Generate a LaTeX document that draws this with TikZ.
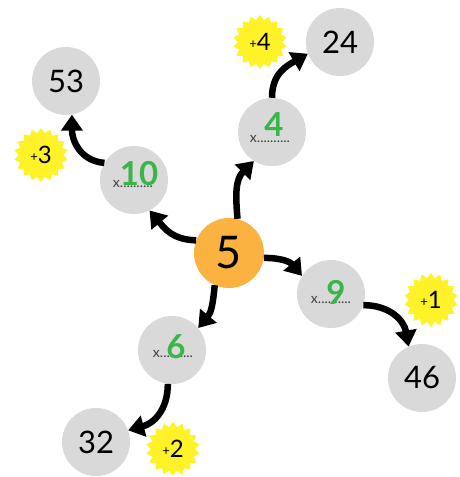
\documentclass[tikz,border=0pt]{standalone}
\usepackage{fontspec}
\setmainfont{Lato}
\usetikzlibrary{calc,arrows.meta,shapes.geometric}

\definecolor{bubblegray}{RGB}{217,217,217}
\definecolor{huborange}{RGB}{251,178,64}
\definecolor{answergreen}{RGB}{57,181,74}
\definecolor{burstyellow}{RGB}{255,242,40}

\begin{document}
\begin{tikzpicture}[x=1pt,y=1pt,yscale=-1,xscale=1,
  bubble/.style = {circle, fill=bubblegray, minimum size=68pt, inner sep=0pt,
  font=\fontsize{31}{31}\selectfont},
  hub/.style = {circle, fill=huborange, minimum size=70pt, inner sep=0pt,
  font=\fontsize{45}{45}\selectfont},
  blank/.style = {inner sep=0pt, text=black!75, font=\fontsize{14}{14}\selectfont},
  answer/.style = {inner sep=0pt, text=answergreen, font=\fontsize{33}{33}\selectfont\bfseries},
  burst/.style = {star, star points=18, star point ratio=1.22, fill=burstyellow,
  minimum size=54pt, inner sep=0pt, font=\fontsize{24}{24}\selectfont},
  hop/.style = {line width=6.5pt, looseness=1.1,
  -{Triangle[length=16pt,width=21pt]}}
  ]
  \useasboundingbox (0,0) rectangle (459,477);

  % centre and first ring
  \node[hub] (c5) at (229,253) {5};
  \node[bubble] (c10) at (134,180) {};
  \node[bubble] (c4) at (272,132) {};
  \node[bubble] (c9) at (331,294) {};
  \node[bubble] (c6) at (172,350) {};

  \node[blank] (d10) at ($(c10)+(-1,4)$) {x..........};
  \node[answer] (a10) at ($(c10)+(5,-6)$) {10};
  \node[blank] (d4) at ($(c4)+(-2,7)$) {x..........};
  \node[answer] (a4) at ($(c4)+(2,-7)$) {4};
  \node[blank] (d9) at ($(c9)+(0,6)$) {x..........};
  \node[answer] (a9) at ($(c9)+(5,-2)$) {9};
  \node[blank] (d6) at ($(c6)+(1,4)$) {x..........};
  \node[answer] (a6) at ($(c6)+(4,-3)$) {6};

  % outer ring
  \node[bubble] (c53) at (66,81) {53};
  \node[bubble] (c24) at (340,42) {24};
  \node[bubble] (c46) at (422,378) {46};
  \node[bubble] (c32) at (96,442) {32};

  \node[burst] (s4) at (260,42) {\raisebox{2pt}{\fontsize{13}{13}\selectfont+}4};
  \node[burst] (s3) at (41,155) {\raisebox{2pt}{\fontsize{13}{13}\selectfont+}3};
  \node[burst] (s1) at (431,300) {\raisebox{2pt}{\fontsize{13}{13}\selectfont+}1};
  \node[burst] (s2) at (173,449) {\raisebox{2pt}{\fontsize{13}{13}\selectfont+}2};

  % y runs downwards, so out/in angles are mirrored
  \draw[hop] (c5.159) to[out=-178, in=50] (c10.-63);
  \draw[hop] (c5.76) to[out=-95, in=135] (c4.-122);
  \draw[hop] (c5.-8) to[out=0, in=-130] (c9.148);
  \draw[hop] (c5.-114) to[out=95, in=-50] (c6.40);

  \draw[hop] (c10.150) to[out=-175, in=90] (c53.-80);
  \draw[hop] (c4.90) to[out=-90, in=150] (c24.-160);
  \draw[hop] (c9.-19) to[out=0, in=-100] (c46.113);
  \draw[hop] (c6.-97) to[out=90, in=-15] (c32.20);

\end{tikzpicture}
\end{document}
